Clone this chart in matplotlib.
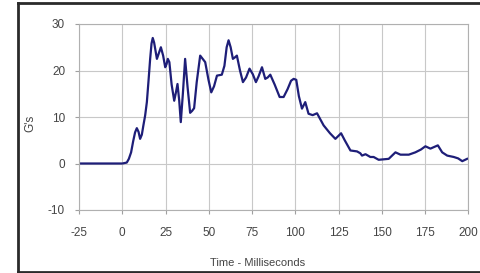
import matplotlib
matplotlib.use("Agg")
import matplotlib.pyplot as plt
from matplotlib.lines import Line2D

plt.rcParams['font.family'] = ['Liberation Sans', 'DejaVu Sans']
plt.rcParams['axes.unicode_minus'] = False

time_ms = [-25, 0, 2.6, 3.8, 5.1, 6.3, 7.4, 8.4, 9.4, 10.3, 11.3, 12.2, 13.2, 14.2,
           15.2, 16.1, 16.9, 17.6, 18.4, 20.0, 21.2, 22.3, 23.6, 24.8, 25.6, 26.3,
           27.2, 28.5, 30.0, 31.0, 31.9, 32.9, 33.8, 35.0, 36.3, 37.7, 39.2, 40.3,
           41.5, 43.0, 45.0, 47.9, 49.8, 51.4, 53.0, 54.7, 57.5, 59.0, 60.3, 61.4,
           62.6, 63.9, 65.0, 66.2, 68.0, 69.7, 71.5, 73.5, 75.4, 77.2, 78.8, 80.7,
           82.6, 84.0, 85.5, 88.0, 90.9, 93.2, 95.5, 97.5, 99.0, 100.5, 102.0, 103.8,
           105.7, 107.6, 110.0, 112.5, 116.3, 120.0, 123.1, 126.4, 128.5, 131.8,
           135.6, 137.5, 138.5, 140.5, 143.3, 145.2, 148.1, 151.0, 153.9, 157.8,
           160.7, 165.5, 169.3, 172.5, 175.1, 178.0, 182.3, 184.8, 187.7, 191.5,
           194.0, 196.4, 199.2]
g_values = [0, 0, 0.2, 1.0, 2.4, 4.8, 6.7, 7.6, 6.8, 5.3, 6.2, 8.2, 10.3, 13.2,
            18.0, 22.5, 25.8, 27.0, 26.0, 22.5, 23.8, 25.0, 23.2, 20.7, 21.4, 22.5,
            21.8, 17.0, 13.5, 15.3, 17.1, 13.5, 8.9, 15.0, 22.5, 16.5, 10.9, 11.3,
            11.9, 17.5, 23.2, 21.8, 18.0, 15.3, 16.6, 18.9, 19.1, 21.0, 25.0, 26.5,
            25.0, 22.5, 22.8, 23.2, 20.0, 17.5, 18.5, 20.4, 19.2, 17.5, 18.8, 20.7,
            18.2, 18.5, 19.1, 17.0, 14.3, 14.3, 16.0, 17.8, 18.2, 18.0, 14.5, 11.8,
            13.2, 10.7, 10.4, 10.8, 8.2, 6.5, 5.3, 6.5, 5.0, 2.8,
            2.6, 2.2, 1.7, 2.0, 1.4, 1.4, 0.8, 0.9, 1.0, 2.4,
            1.9, 1.9, 2.4, 3.0, 3.7, 3.2, 3.9, 2.4, 1.7, 1.4,
            1.1, 0.5, 1.0]

x_ticks = [-25, 0, 25, 50, 75, 100, 125, 150, 175, 200]
y_ticks = [-10, 0, 10, 20, 30]

fig = plt.figure(figsize=(4.81, 2.73), dpi=100)
fig.patch.set_facecolor('white')

# outer frame (left, top, bottom edges; right edge lies outside the picture)
fc = '#2a2a2a'
L, T, B = 17.5 / 481, 1 - 2.5 / 273, 1.5 / 273
for xs, ys in [([L, L], [B, T]), ([L, 1.01], [T, T]), ([L, 1.01], [B, B])]:
    fig.lines.append(Line2D(xs, ys, transform=fig.transFigure, color=fc, linewidth=2.0,
                            solid_capstyle='projecting'))

ax = fig.add_axes([79/481, 1 - 210/273, (468.5 - 79)/481, (210 - 24)/273])
ax.plot(time_ms, g_values, color='#1e1e78', linewidth=1.6, solid_joinstyle='round')

ax.set_xlim(-25, 200)
ax.set_ylim(-10, 30)
ax.set_xticks(x_ticks)
ax.set_yticks(y_ticks)
ax.grid(True, color='#c8c8c8', linewidth=0.8)
ax.set_axisbelow(True)
for s in ax.spines.values():
    s.set_color('#b0b0b0')
    s.set_linewidth(0.8)
ax.tick_params(axis='both', colors='#a0a0a0', labelcolor='#444444', labelsize=8.5,
               length=3, width=0.8)
ax.tick_params(axis='x', pad=9)
ax.tick_params(axis='y', pad=7)

fig.text(30/481, 1 - 123/273, "G's", rotation=90, ha='center', va='center',
         fontsize=8.5, color='#444444')
fig.text(258/481, 1 - 263/273, "Time - Milliseconds", ha='center', va='center',
         fontsize=8, color='#444444')

fig.savefig('out.png', dpi=100)
